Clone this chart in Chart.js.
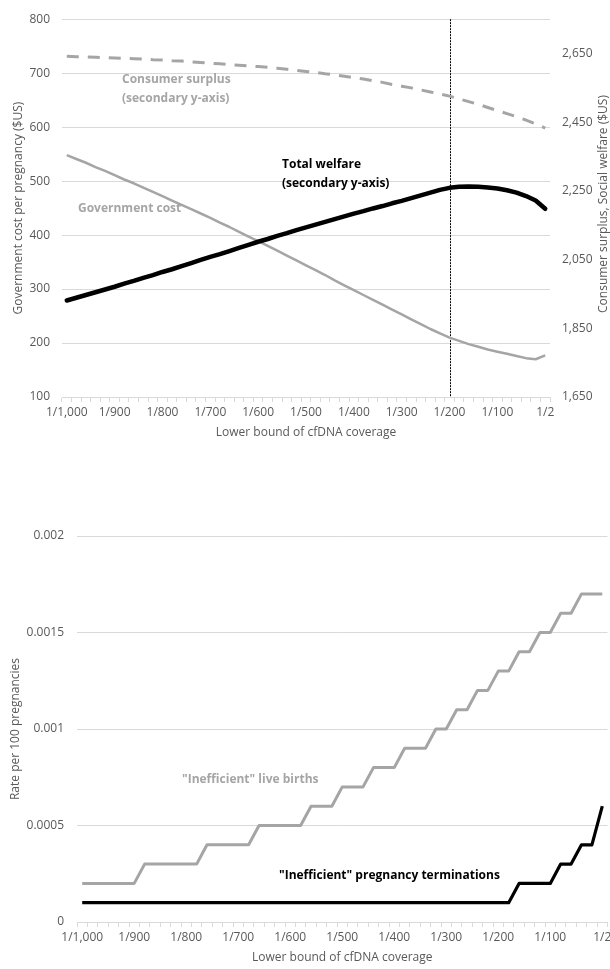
<!DOCTYPE html>
<html lang="en">
<head>
    <meta charset="UTF-8">
    <title>cfDNA coverage</title>
    <script src="https://cdn.jsdelivr.net/npm/chart.js"></script>
    <style>
        body { margin: 0; width: 610px; height: 969px; overflow: hidden; background: #fff; position: relative; }
        #welfare { position: absolute; left: 0; top: 0; }
        #rates { position: absolute; left: 0; top: 500px; }
    </style>
</head>
<body>
    <canvas id="welfare" width="610" height="445"></canvas>
    <canvas id="rates" width="625" height="469"></canvas>

<script>
// lower bound of cfDNA coverage, one category per step
const coverage = [
    '1/1,000', '1/980', '1/960', '1/940', '1/920', '1/900', '1/880', '1/860', '1/840', '1/820',
    '1/800', '1/780', '1/760', '1/740', '1/720', '1/700', '1/680', '1/660', '1/640', '1/620',
    '1/600', '1/580', '1/560', '1/540', '1/520', '1/500', '1/480', '1/460', '1/440', '1/420',
    '1/400', '1/380', '1/360', '1/340', '1/320', '1/300', '1/280', '1/260', '1/240', '1/220',
    '1/200', '1/180', '1/160', '1/140', '1/120', '1/100', '1/80', '1/60', '1/40', '1/20',
    '1/2'
];

// top chart ($US)
const governmentCost = [
    548, 541, 534, 526, 519, 511, 503, 496, 488, 480,
    472, 464, 456, 448, 440, 432, 423, 415, 406, 397,
    389, 380, 371, 362, 353, 344, 335, 326, 316, 307,
    298, 289, 280, 271, 262, 253, 244, 235, 226, 218,
    210, 204, 198, 193, 188, 184, 180, 176, 172, 170,
    177
];
const totalWelfare = [
    1931, 1939, 1947, 1955, 1963, 1971, 1980, 1988, 1997, 2005,
    2014, 2022, 2031, 2040, 2049, 2058, 2066, 2075, 2084, 2093,
    2102, 2110, 2119, 2127, 2136, 2144, 2152, 2160, 2168, 2176,
    2184, 2191, 2199, 2206, 2214, 2221, 2229, 2237, 2245, 2253,
    2259, 2262, 2263, 2262, 2260, 2257, 2252, 2245, 2235, 2222,
    2198
];
const consumerSurplus = [
    2642, 2641, 2640, 2639, 2638, 2637, 2636, 2635, 2634, 2632,
    2631, 2629, 2628, 2626, 2624, 2622, 2620, 2618, 2616, 2614,
    2612, 2610, 2607, 2604, 2601, 2598, 2595, 2591, 2588, 2584,
    2580, 2576, 2571, 2566, 2560, 2555, 2550, 2544, 2538, 2532,
    2526, 2518, 2510, 2502, 2493, 2484, 2475, 2466, 2456, 2445,
    2433
];
const costTicks = [100, 200, 300, 400, 500, 600, 700, 800];
const welfareTicks = [1650, 1850, 2050, 2250, 2450, 2650];
const welfareTickLabels = ['1,650', '1,850', '2,050', '2,250', '2,450', '2,650'];
const markerCategory = '1/200';

// bottom chart (rate per 100 pregnancies)
const inefficientBirths = [
    0.0002, 0.0002, 0.0002, 0.0002, 0.0002, 0.0002, 0.0003, 0.0003, 0.0003, 0.0003,
    0.0003, 0.0003, 0.0004, 0.0004, 0.0004, 0.0004, 0.0004, 0.0005, 0.0005, 0.0005,
    0.0005, 0.0005, 0.0006, 0.0006, 0.0006, 0.0007, 0.0007, 0.0007, 0.0008, 0.0008,
    0.0008, 0.0009, 0.0009, 0.0009, 0.001, 0.001, 0.0011, 0.0011, 0.0012, 0.0012,
    0.0013, 0.0013, 0.0014, 0.0014, 0.0015, 0.0015, 0.0016, 0.0016, 0.0017, 0.0017,
    0.0017
];
const inefficientTerminations = [
    0.0001, 0.0001, 0.0001, 0.0001, 0.0001, 0.0001, 0.0001, 0.0001, 0.0001, 0.0001,
    0.0001, 0.0001, 0.0001, 0.0001, 0.0001, 0.0001, 0.0001, 0.0001, 0.0001, 0.0001,
    0.0001, 0.0001, 0.0001, 0.0001, 0.0001, 0.0001, 0.0001, 0.0001, 0.0001, 0.0001,
    0.0001, 0.0001, 0.0001, 0.0001, 0.0001, 0.0001, 0.0001, 0.0001, 0.0001, 0.0001,
    0.0001, 0.0001, 0.0002, 0.0002, 0.0002, 0.0002, 0.0003, 0.0003, 0.0004, 0.0004,
    0.0006
];
const rateTicks = [0, 0.0005, 0.001, 0.0015, 0.002];
const rateTickLabels = ['0', '0.0005', '0.001', '0.0015', '0.002'];

const GREY = '#A5A5A5';
const TEXT = '#595959';
const GRID = '#D9D9D9';

Chart.defaults.font.family = '"Open Sans", sans-serif';
Chart.defaults.font.size = 12;
Chart.defaults.color = TEXT;

// free text drawn on the canvas (series names, rotated right axis title)
const textLabels = {
    id: 'textLabels',
    afterDatasetsDraw(chart, args, opts) {
        const ctx = chart.ctx;
        ctx.save();
        ctx.textBaseline = 'middle';
        (opts.items || []).forEach(item => {
            ctx.font = item.font || 'bold 12px "Open Sans"';
            ctx.fillStyle = item.color;
            ctx.textAlign = item.align || 'left';
            item.lines.forEach((line, i) => {
                if (item.rotate) {
                    ctx.save();
                    ctx.translate(item.x, item.y);
                    ctx.rotate(-Math.PI / 2);
                    ctx.fillText(line, 0, 0);
                    ctx.restore();
                } else {
                    ctx.fillText(line, item.x, item.y + i * 18.5);
                }
            });
        });
        ctx.restore();
    }
};

// dotted vertical line at a category
const markerLine = {
    id: 'markerLine',
    beforeDatasetsDraw(chart, args, opts) {
        if (!opts.category) return;
        const ctx = chart.ctx;
        const x = Math.round(chart.scales.x.getPixelForValue(coverage.indexOf(opts.category))) + 0.5;
        const {top, bottom} = chart.chartArea;
        ctx.save();
        ctx.strokeStyle = '#000';
        ctx.lineWidth = 1;
        ctx.setLineDash([2, 1]);
        ctx.beginPath();
        ctx.moveTo(x, top);
        ctx.lineTo(x, bottom);
        ctx.stroke();
        ctx.restore();
    }
};

function everyFifth(value, index) {
    return index % 5 === 0 ? coverage[index] : '';
}

function xAxis(height, titlePad) {
    return {
        type: 'category',
        offset: true,
        grid: { display: true, drawOnChartArea: false, drawTicks: true, tickLength: 5, color: GRID, offset: true },
        border: { display: true, color: GRID },
        ticks: { autoSkip: false, maxRotation: 0, minRotation: 0, padding: 3, callback: everyFifth },
        title: { display: true, text: 'Lower bound of cfDNA coverage', padding: { top: 0, bottom: titlePad } },
        afterFit: s => { s.height = height; }
    };
}

new Chart(document.getElementById('welfare'), {
    type: 'line',
    data: {
        labels: coverage,
        datasets: [
            {
                label: 'Total welfare',
                data: totalWelfare,
                yAxisID: 'y1',
                borderColor: '#000',
                borderWidth: 4.5,
                borderCapStyle: 'round',
                borderJoinStyle: 'round',
                order: 0
            },
            {
                label: 'Government cost',
                data: governmentCost,
                yAxisID: 'y',
                borderColor: GREY,
                borderWidth: 2.5,
                borderJoinStyle: 'round',
                order: 1
            },
            {
                label: 'Consumer surplus',
                data: consumerSurplus,
                yAxisID: 'y1',
                borderColor: GREY,
                borderWidth: 3,
                borderDash: [12, 9],
                order: 2
            }
        ]
    },
    options: {
        responsive: false,
        animation: false,
        events: [],
        layout: { padding: { top: 11, left: 0, right: 0, bottom: 0 } },
        elements: { point: { radius: 0 }, line: { tension: 0, fill: false } },
        plugins: {
            legend: { display: false },
            tooltip: { enabled: false },
            markerLine: { category: markerCategory },
            textLabels: {
                items: [
                    { lines: ['Consumer surplus', '(secondary y-axis)'], x: 122, y: 80, color: GREY },
                    { lines: ['Government cost'], x: 78, y: 209, color: GREY },
                    { lines: ['Total welfare', '(secondary y-axis)'], x: 282, y: 165, color: '#000' },
                    { lines: ['Consumer surplus, Social welfare ($US)'], x: 604, y: 204, color: TEXT,
                      align: 'center', rotate: true, font: '12px "Open Sans"' }
                ]
            }
        },
        scales: {
            x: xAxis(48, 5.5),
            y: {
                position: 'left',
                min: 100,
                max: 800,
                grid: { color: GRID, drawTicks: false },
                border: { display: false },
                ticks: { stepSize: 100, padding: 12 },
                afterBuildTicks: axis => { axis.ticks = costTicks.map(v => ({ value: v })); },
                title: { display: true, text: 'Government cost per pregnancy ($US)', padding: { top: 11, bottom: 0 } },
                afterFit: s => { s.width = 62; }
            },
            y1: {
                position: 'right',
                min: 1650,
                max: 2750,
                grid: { display: false, drawTicks: false },
                border: { display: false },
                ticks: { padding: 12, callback: (v, i) => welfareTickLabels[i] },
                afterBuildTicks: axis => { axis.ticks = welfareTicks.map(v => ({ value: v })); },
                afterFit: s => { s.width = 60; }
            }
        }
    },
    plugins: [markerLine, textLabels]
});

new Chart(document.getElementById('rates'), {
    type: 'line',
    data: {
        labels: coverage,
        datasets: [
            {
                label: '"Inefficient" pregnancy terminations',
                data: inefficientTerminations,
                borderColor: '#000',
                borderWidth: 3.2,
                borderJoinStyle: 'round',
                order: 0
            },
            {
                label: '"Inefficient" live births',
                data: inefficientBirths,
                borderColor: GREY,
                borderWidth: 3,
                borderJoinStyle: 'round',
                order: 1
            }
        ]
    },
    options: {
        responsive: false,
        animation: false,
        events: [],
        layout: { padding: { top: 36, left: 0, right: 17.5, bottom: 0 } },
        elements: { point: { radius: 0 }, line: { tension: 0, fill: false } },
        plugins: {
            legend: { display: false },
            tooltip: { enabled: false },
            textLabels: {
                items: [
                    { lines: ['"Inefficient" live births'], x: 182, y: 280, color: GREY },
                    { lines: ['"Inefficient" pregnancy terminations'], x: 279, y: 375.5, color: '#000' }
                ]
            }
        },
        scales: {
            x: xAxis(47, 4),
            y: {
                min: 0,
                max: 0.002,
                grid: { color: GRID, drawTicks: false },
                border: { display: false },
                ticks: { padding: 13, callback: (v, i) => rateTickLabels[i] },
                afterBuildTicks: axis => { axis.ticks = rateTicks.map(v => ({ value: v })); },
                title: { display: true, text: 'Rate per 100 pregnancies', padding: { top: 8, bottom: 0 } },
                afterFit: s => { s.width = 77; }
            }
        }
    },
    plugins: [textLabels]
});
</script>
</body>
</html>
